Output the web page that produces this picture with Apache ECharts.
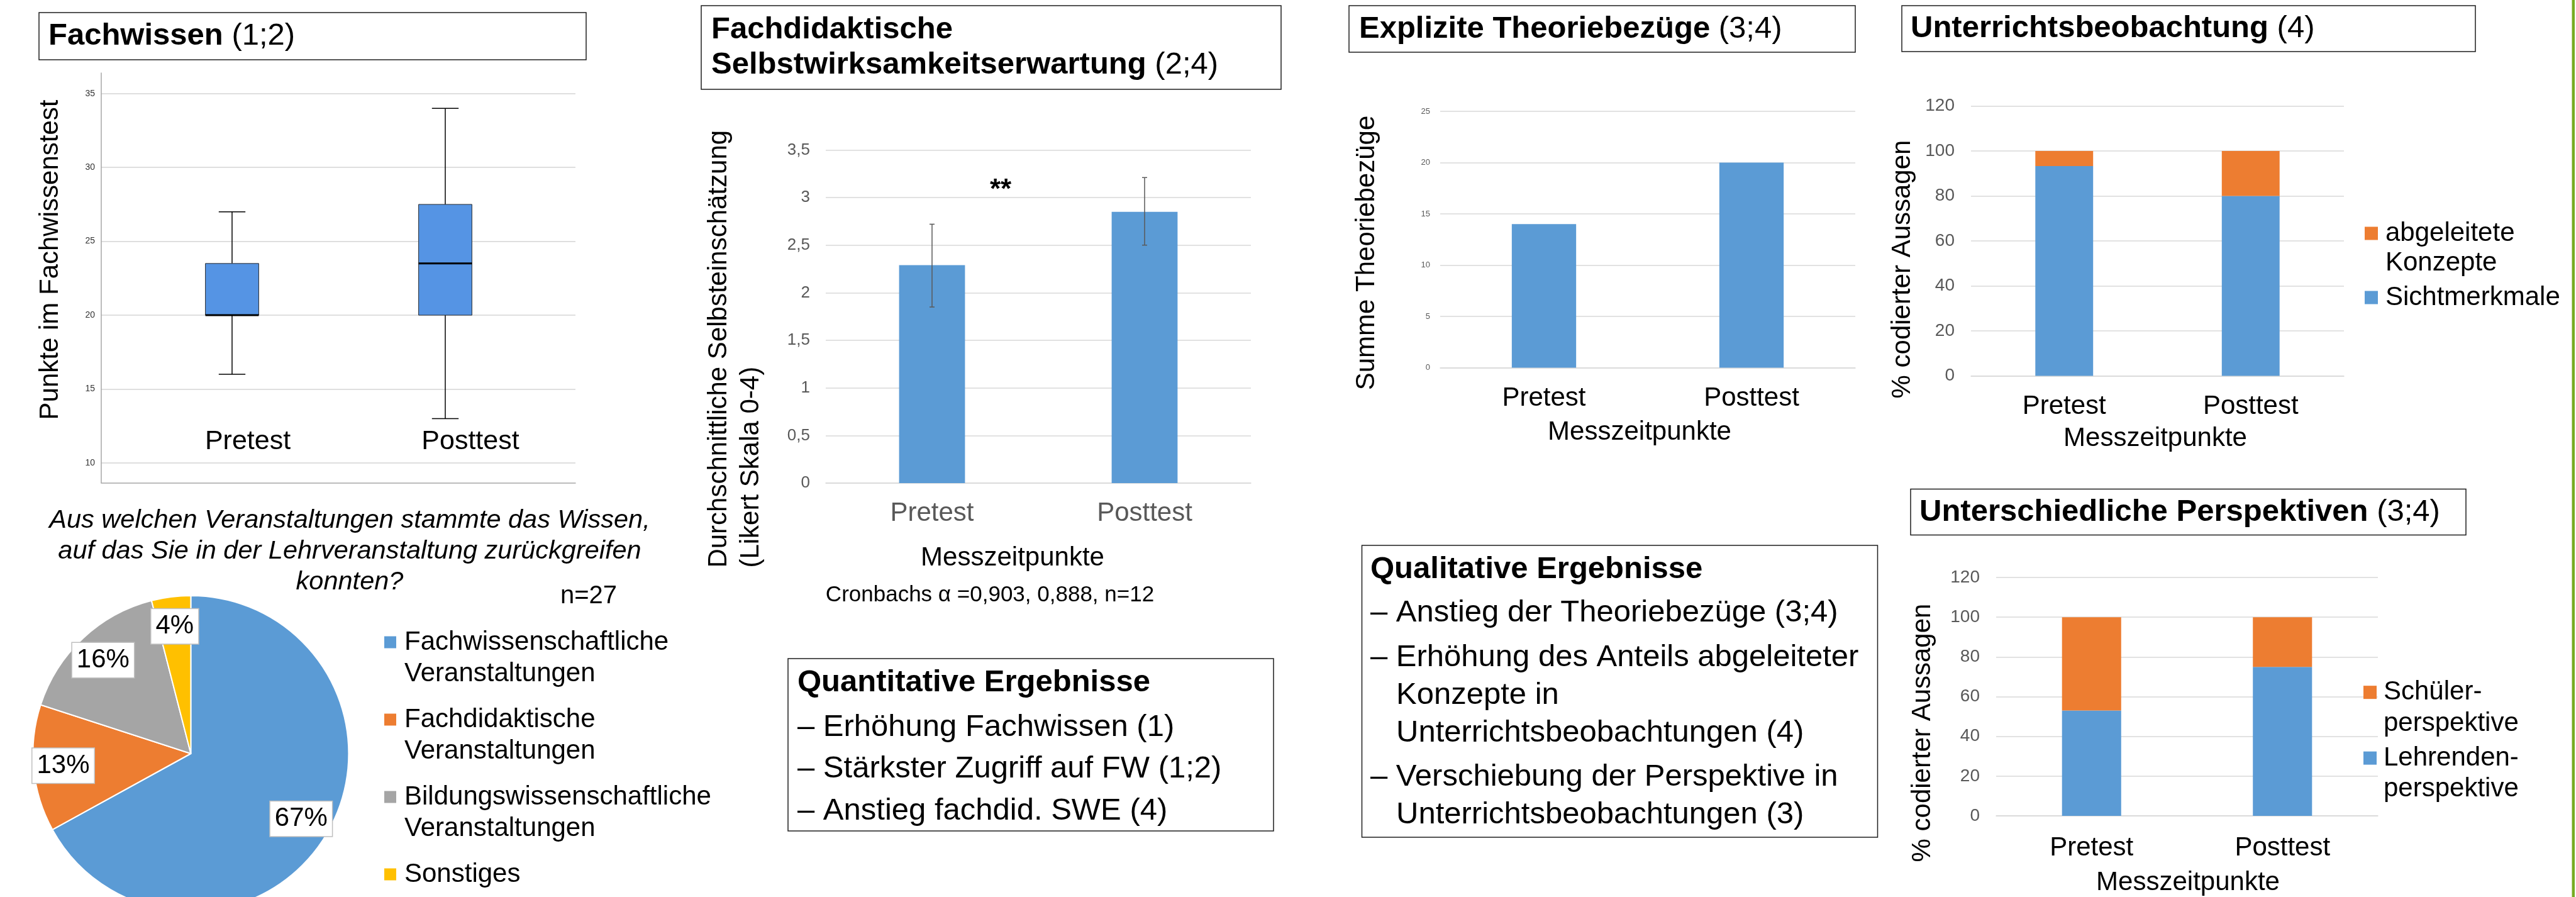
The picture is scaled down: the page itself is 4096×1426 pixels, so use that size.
<!DOCTYPE html>
<html lang="de">
<head>
<meta charset="utf-8">
<title>Ergebnisse</title>
<script src="https://cdn.jsdelivr.net/npm/echarts@6/dist/echarts.min.js"></script>
<style>
  html, body { margin: 0; padding: 0; background: #fff; }
  #chart { width: 4096px; height: 1426px; }
</style>
</head>
<body>
<div id="chart"></div>
<script>
const timepoints = ['Pretest', 'Posttest']

// Fachwissen (Boxplot)
const fwMin = [16, 13]
const fwQ1 = [20, 20]
const fwMedian = [20, 23.5]
const fwQ3 = [23.5, 27.5]
const fwMax = [27, 34]

// Herkunft des Wissens (n=27)
const sourceNames = [
  'Fachwissenschaftliche\nVeranstaltungen',
  'Fachdidaktische\nVeranstaltungen',
  'Bildungswissenschaftliche\nVeranstaltungen',
  'Sonstiges',
]
const sourceShares = [67, 13, 16, 4]

// Fachdidaktische Selbstwirksamkeitserwartung
const sweMean = [2.29, 2.85]
const sweLow = [1.85, 2.5]
const sweHigh = [2.72, 3.21]

// Explizite Theoriebezüge
const theorySum = [14, 20]

// Unterrichtsbeobachtung
const obsDerivedName = 'abgeleitete\nKonzepte'
const obsSurfaceName = 'Sichtmerkmale'
const obsSurface = [93.3, 80]
const obsDerived = [6.7, 20]

// Unterschiedliche Perspektiven
const perspStudentName = 'Schüler-\nperspektive'
const perspTeacherName = 'Lehrenden-\nperspektive'
const perspTeacher = [53, 75]
const perspStudent = [47, 25]

const FONT = '"Liberation Sans", Arial, Helvetica, sans-serif'
const BLUE = '#5b9bd5'
const ORANGE = '#ed7d31'
const sourceColors = ['#5b9bd5', '#ed7d31', '#a5a5a5', '#ffc000']

const chart = echarts.init(document.getElementById('chart'))

// SPSS-Achse: Pixel aus Wert (gemeinsam für die drei Boxplot-Grids)
const fwY = (v) => 767.6 - (v - 8.65) * 23.484

function renderBox(params, api) {
  const i = api.value(0)
  const low = api.coord([i, api.value(1)])
  const cx = low[0]
  const yQ1 = api.coord([i, api.value(2)])[1]
  const yMed = api.coord([i, api.value(3)])[1]
  const yQ3 = api.coord([i, api.value(4)])[1]
  const yMax = api.coord([i, api.value(5)])[1]
  const band = api.size([1, 0])[0]
  const half = band * 0.125
  const cap = band * 0.0625
  const whisker = { stroke: '#000', lineWidth: 1.5 }
  return {
    type: 'group',
    children: [
      { type: 'line', shape: { x1: cx, y1: yMax, x2: cx, y2: yQ3 }, style: whisker },
      { type: 'line', shape: { x1: cx, y1: yQ1, x2: cx, y2: low[1] }, style: whisker },
      { type: 'line', shape: { x1: cx - cap, y1: yMax, x2: cx + cap, y2: yMax }, style: whisker },
      { type: 'line', shape: { x1: cx - cap, y1: low[1], x2: cx + cap, y2: low[1] }, style: whisker },
      {
        type: 'rect',
        shape: { x: cx - half, y: yQ3, width: half * 2, height: yQ1 - yQ3 },
        style: { fill: '#5594e4', stroke: '#2b2b2b', lineWidth: 1 },
      },
      { type: 'line', shape: { x1: cx - half, y1: yMed, x2: cx + half, y2: yMed }, style: { stroke: '#000', lineWidth: 3 } },
    ],
  }
}

function renderErrorBar(params, api) {
  const i = api.value(0)
  const low = api.coord([i, api.value(1)])
  const high = api.coord([i, api.value(2)])
  const style = { stroke: '#595959', lineWidth: 1.5 }
  return {
    type: 'group',
    children: [
      { type: 'line', shape: { x1: low[0], y1: low[1], x2: high[0], y2: high[1] }, style },
      { type: 'line', shape: { x1: low[0] - 4, y1: low[1], x2: low[0] + 4, y2: low[1] }, style },
      { type: 'line', shape: { x1: high[0] - 4, y1: high[1], x2: high[0] + 4, y2: high[1] }, style },
    ],
  }
}

function frame(x, y, width, height) {
  return { type: 'rect', shape: { x, y, width, height }, style: { fill: '#fff', stroke: '#1e1e1e', lineWidth: 1.5 } }
}

function text(content, x, y, size, extra = {}, rotation = 0) {
  return {
    type: 'text',
    x,
    y,
    rotation,
    style: { text: content, fontSize: size, fontFamily: FONT, fill: '#000', align: 'left', verticalAlign: 'middle', ...extra },
  }
}

function heading(content, x, y) {
  const base = { fontSize: 49, fontFamily: FONT, fill: '#000', lineHeight: 56 }
  return {
    type: 'text',
    x,
    y,
    style: {
      text: content,
      align: 'left',
      verticalAlign: 'middle',
      rich: { b: { ...base, fontWeight: 'bold' }, n: base },
    },
  }
}

function categoryAxis(gridIndex, margin, color) {
  return {
    type: 'category',
    gridIndex,
    data: timepoints,
    axisLine: { lineStyle: { color: '#d9d9d9', width: 1.5 } },
    axisTick: { show: false },
    axisLabel: { fontSize: 42, color, margin, fontFamily: FONT },
  }
}

function valueAxis(gridIndex, max, interval, fontSize, margin, formatter) {
  return {
    type: 'value',
    gridIndex,
    min: 0,
    max,
    interval,
    axisLine: { show: false },
    axisTick: { show: false },
    splitLine: { lineStyle: { color: '#d9d9d9', width: 1.5 } },
    axisLabel: { fontSize, color: '#595959', margin, fontFamily: FONT, formatter },
  }
}

// Legendensymbol soll an der ersten Textzeile stehen: zweizeilige Einträge
// bekommen eine Leerzeile davor, einzeilige gleich hohen Innenabstand.
function legendItems(names, lineHeight, padLeft) {
  return names.map((name) => ({
    name,
    textStyle: {
      padding: name.includes('\n') ? [0, 0, 0, padLeft] : [lineHeight, 0, lineHeight, padLeft],
      backgroundColor: 'transparent',
    },
  }))
}

const legendFormatter = (name) => (name.includes('\n') ? '\n' + name : name)

function legend(names, left, top, lineHeight, fontSize, icon, gap, padLeft) {
  return {
    data: legendItems(names, lineHeight, padLeft),
    formatter: legendFormatter,
    orient: 'vertical',
    left,
    top,
    height: 700,
    padding: 0,
    itemWidth: icon,
    itemHeight: icon,
    itemGap: gap,
    icon: 'rect',
    selectedMode: false,
    itemStyle: { borderWidth: 0 },
    textStyle: { fontSize, lineHeight, color: '#000', fontFamily: FONT },
  }
}

const grids = [
  { left: 161, width: 754, top: fwY(36.4), height: fwY(8.65) - fwY(36.4) },
  { left: 161, width: 754, top: fwY(35), height: fwY(10) - fwY(35) },
  { left: 199.5, width: 678, top: fwY(36), height: fwY(12.5) - fwY(36) },
  { left: 1313, width: 676, top: 238.4, height: 529.6 },
  { left: 2290, width: 660, top: 177, height: 407.5 },
  { left: 3134, width: 593, top: 168.5, height: 429.1 },
  { left: 3174, width: 607, top: 918, height: 379 },
].map((g) => ({ ...g, outerBoundsMode: 'none' }))

const pieRadius = 251

chart.setOption({
  animation: false,
  backgroundColor: '#fff',
  textStyle: { fontFamily: FONT },
  grid: grids,
  xAxis: [
    {
      type: 'category',
      gridIndex: 0,
      data: timepoints,
      axisLine: { onZero: false, lineStyle: { color: '#a6a6a6', width: 1.5 } },
      axisTick: { show: false },
      axisLabel: { show: false },
    },
    { type: 'category', gridIndex: 1, data: timepoints, show: false },
    {
      type: 'category',
      gridIndex: 2,
      // SPSS setzt die Beschriftungen etwas rechts von den Boxen
      data: [
        { value: timepoints[0], textStyle: { padding: [0, 0, 0, 50] } },
        { value: timepoints[1], textStyle: { padding: [0, 0, 0, 80] } },
      ],
      axisLine: { show: false },
      axisTick: { show: false },
      axisLabel: { fontSize: 43, color: '#000', margin: 3, fontFamily: FONT },
    },
    categoryAxis(3, 27, '#595959'),
    categoryAxis(4, 28, '#000'),
    categoryAxis(5, 28, '#000'),
    categoryAxis(6, 30, '#000'),
  ],
  yAxis: [
    {
      type: 'value',
      gridIndex: 0,
      min: 8.65,
      max: 36.4,
      axisLine: { show: true, lineStyle: { color: '#a6a6a6', width: 1.5 } },
      axisTick: { show: false },
      axisLabel: { show: false },
      splitLine: { show: false },
    },
    {
      type: 'value',
      gridIndex: 1,
      min: 10,
      max: 35,
      interval: 5,
      axisLine: { show: false },
      axisTick: { show: false },
      axisLabel: { fontSize: 14, color: '#333', margin: 10 },
      splitLine: { lineStyle: { color: '#d4d4d4', width: 1.5 } },
    },
    { type: 'value', gridIndex: 2, min: 12.5, max: 36, show: false },
    valueAxis(3, 3.5, 0.5, 26, 25, (v) => String(v).replace('.', ',')),
    valueAxis(4, 25, 5, 13, 16),
    valueAxis(5, 120, 20, 28, 26),
    valueAxis(6, 120, 20, 28, 26),
  ],
  legend: [
    legend(sourceNames, 611, 946, 50, 42, 19, -27, 8),
    legend([obsDerivedName, obsSurfaceName], 3760, 300.5, 47, 42, 21, -39, 7),
    legend([perspStudentName, perspTeacherName], 3758, 1026.4, 49.5, 42, 21, -44, 6),
  ],
  series: [
    {
      type: 'custom',
      name: 'Fachwissen',
      xAxisIndex: 2,
      yAxisIndex: 2,
      renderItem: renderBox,
      encode: { x: 0, y: [1, 2, 3, 4, 5] },
      data: timepoints.map((t, i) => [i, fwMin[i], fwQ1[i], fwMedian[i], fwQ3[i], fwMax[i]]),
      z: 3,
    },
    {
      type: 'bar',
      name: 'Selbsteinschätzung',
      xAxisIndex: 3,
      yAxisIndex: 3,
      barWidth: '31%',
      itemStyle: { color: BLUE },
      data: sweMean,
    },
    {
      type: 'custom',
      name: 'Streuung',
      xAxisIndex: 3,
      yAxisIndex: 3,
      renderItem: renderErrorBar,
      encode: { x: 0, y: [1, 2] },
      data: timepoints.map((t, i) => [i, sweLow[i], sweHigh[i]]),
      z: 4,
    },
    {
      type: 'bar',
      name: 'Summe Theoriebezüge',
      xAxisIndex: 4,
      yAxisIndex: 4,
      barWidth: '31%',
      itemStyle: { color: BLUE },
      data: theorySum,
    },
    {
      type: 'bar',
      name: obsSurfaceName,
      xAxisIndex: 5,
      yAxisIndex: 5,
      stack: 'obs',
      barWidth: '31%',
      itemStyle: { color: BLUE },
      data: obsSurface,
    },
    {
      type: 'bar',
      name: obsDerivedName,
      xAxisIndex: 5,
      yAxisIndex: 5,
      stack: 'obs',
      barWidth: '31%',
      itemStyle: { color: ORANGE },
      data: obsDerived,
    },
    {
      type: 'bar',
      name: perspTeacherName,
      xAxisIndex: 6,
      yAxisIndex: 6,
      stack: 'persp',
      barWidth: '31%',
      itemStyle: { color: BLUE },
      data: perspTeacher,
    },
    {
      type: 'bar',
      name: perspStudentName,
      xAxisIndex: 6,
      yAxisIndex: 6,
      stack: 'persp',
      barWidth: '31%',
      itemStyle: { color: ORANGE },
      data: perspStudent,
    },
    {
      type: 'pie',
      name: 'Herkunft',
      center: [303.4, 1198],
      radius: pieRadius,
      startAngle: 90,
      clockwise: true,
      silent: true,
      emphasis: { disabled: true },
      label: { show: false },
      labelLine: { show: false },
      itemStyle: { borderColor: '#fff', borderWidth: 2 },
      data: sourceShares.map((value, i) => ({ name: sourceNames[i], value, itemStyle: { color: sourceColors[i] } })),
    },
    {
      // nur die Prozent-Beschriftungen, weiter außen als die Standardposition
      type: 'pie',
      name: 'Beschriftung',
      center: [303.4, 1198],
      radius: [pieRadius * 0.6, pieRadius],
      startAngle: 90,
      clockwise: true,
      silent: true,
      emphasis: { disabled: true },
      itemStyle: { color: 'rgba(0,0,0,0)', borderWidth: 0 },
      labelLine: { show: false },
      label: {
        show: true,
        position: 'inside',
        formatter: '{c}%',
        fontSize: 42,
        lineHeight: 44,
        color: '#000',
        fontFamily: FONT,
        backgroundColor: '#fff',
        borderColor: '#bfbfbf',
        borderWidth: 1.5,
        padding: [6, 7, 5, 7],
      },
      data: sourceShares.map((value, i) => ({ name: sourceNames[i], value })),
    },
  ],
  graphic: [
    // Titelkästen
    frame(62, 20, 870, 75),
    heading('{b|Fachwissen}{n| (1;2)}', 77, 57.5),
    frame(1115, 9, 922, 133),
    heading('{b|Fachdidaktische}\n{b|Selbstwirksamkeitserwartung}{n| (2;4)}', 1131, 75.5),
    frame(2145, 9, 805, 74),
    heading('{b|Explizite Theoriebezüge}{n| (3;4)}', 2161, 46),
    frame(3024, 9, 912, 73),
    heading('{b|Unterrichtsbeobachtung}{n| (4)}', 3038, 45.5),
    frame(3038, 777.5, 883, 73),
    heading('{b|Unterschiedliche Perspektiven}{n| (3;4)}', 3052, 814),

    // Achsentitel
    text('Punkte im Fachwissenstest', 80.4, 413, 42, { align: 'center' }, Math.PI / 2),
    text('Durchschnittliche Selbsteinschätzung\n(Likert Skala 0-4)', 1169, 902.6, 42, { lineHeight: 51 }, Math.PI / 2),
    text('Summe Theoriebezüge', 2173, 402, 42, { align: 'center' }, Math.PI / 2),
    text('% codierter Aussagen', 3025.7, 428, 42, { align: 'center' }, Math.PI / 2),
    text('% codierter Aussagen', 3057, 1165, 42, { align: 'center' }, Math.PI / 2),
    text('Messzeitpunkte', 1610, 887, 42, { align: 'center' }),
    text('Messzeitpunkte', 2607, 687, 42, { align: 'center' }),
    text('Messzeitpunkte', 3427, 697.5, 42, { align: 'center' }),
    text('Messzeitpunkte', 3479, 1403.6, 42, { align: 'center' }),
    text('**', 1591, 303, 44, { align: 'center', fontWeight: 'bold' }),
    text('Cronbachs α =0,903, 0,888, n=12', 1574, 946, 35, { align: 'center' }),

    // Kreisdiagramm-Frage
    text('Aus welchen Veranstaltungen stammte das Wissen,', 556, 827, 41.5, { align: 'center', fontStyle: 'italic' }),
    text('auf das Sie in der Lehrveranstaltung zurückgreifen', 556, 876, 41.5, { align: 'center', fontStyle: 'italic' }),
    text('konnten?', 556, 925, 41.5, { align: 'center', fontStyle: 'italic' }),
    text('n=27', 936, 948, 40, { align: 'center' }),

    // Quantitative Ergebnisse
    frame(1253, 1047, 772, 274),
    text('Quantitative Ergebnisse', 1268, 1085, 49, { fontWeight: 'bold' }),
    text('– Erhöhung Fachwissen (1)', 1268, 1156, 49),
    text('– Stärkster Zugriff auf FW (1;2)', 1268, 1222, 49),
    text('– Anstieg fachdid. SWE (4)', 1268, 1289, 49),

    // Qualitative Ergebnisse
    frame(2165.5, 867, 820, 464),
    text('Qualitative Ergebnisse', 2179, 905, 49, { fontWeight: 'bold' }),
    text('– Anstieg der Theoriebezüge (3;4)', 2179, 974, 49),
    text('– Erhöhung des Anteils abgeleiteter', 2179, 1045, 49),
    text('Konzepte in', 2220, 1105, 49),
    text('Unterrichtsbeobachtungen (4)', 2220, 1165, 49),
    text('– Verschiebung der Perspektive in', 2179, 1235, 49),
    text('Unterrichtsbeobachtungen (3)', 2220, 1295, 49),

    // grüner Rand rechts
    { type: 'rect', shape: { x: 4089.5, y: 0, width: 4.5, height: 1426 }, style: { fill: '#77ac22' } },
  ],
})

window.addEventListener('resize', () => chart.resize())
</script>
</body>
</html>
